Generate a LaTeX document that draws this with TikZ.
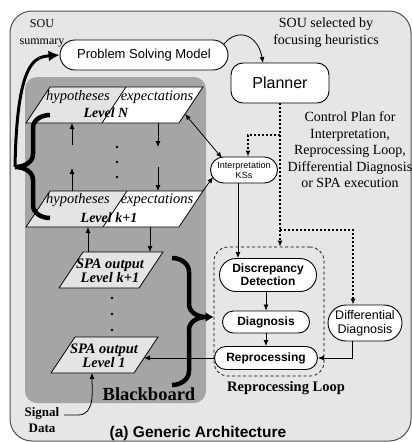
\documentclass[tikz,border=0pt]{standalone}
\usepackage{fontspec}
\setmainfont{Liberation Serif}
\setsansfont{Liberation Sans}
\usetikzlibrary{arrows.meta,calc,shapes.misc}
\definecolor{outerbg}{HTML}{E6E6E6}
\definecolor{bbgray}{HTML}{A5A5A5}
\definecolor{hypfill}{HTML}{E4E4E4}
\definecolor{framec}{HTML}{505050}
\begin{document}
\begin{tikzpicture}[x=1pt,y=-1pt,
  >={Latex[length=6pt,width=5pt]},
  arr/.style={->,line width=0.8pt},
  dotl/.style={line width=2pt,dash pattern=on 2pt off 2pt},
  rr/.style={rounded rectangle,draw,line width=0.9pt,fill=white,inner sep=0pt,align=center},
  para/.style={line width=0.8pt},
  bigbrace/.style={line width=4.5pt},
  itx/.style={font=\itshape\fontsize{14.5}{16}\selectfont},
  lvl/.style={font=\bfseries\itshape\fontsize{14}{16}\selectfont},
  spa/.style={font=\bfseries\itshape\fontsize{14.5}{12.5}\selectfont,align=center},
  serif/.style={font=\fontsize{14}{16.5}\selectfont,align=center},
  bsans/.style={font=\sffamily\bfseries\fontsize{12}{13}\selectfont}
]
\useasboundingbox (0,0) rectangle (412,442);
% outer frame
\draw[framec,line width=1pt,fill=outerbg,rounded corners=22pt] (10,11) rectangle (411,441);
% blackboard
\fill[bbgray,rounded corners=12pt] (25,77) rectangle (206,403);

% Level N
\coordinate (lnTL) at (50,87); \coordinate (lnTR) at (203,87);
\coordinate (lnBR) at (179,123); \coordinate (lnBL) at (26,123);
\coordinate (lnDT) at (126,87); \coordinate (lnDB) at (102,123);
\fill[hypfill] (lnTL) -- (lnDT) -- (lnDB) -- (lnBL) -- cycle;
\fill[white] (lnDT) -- (lnTR) -- (lnBR) -- (lnDB) -- cycle;
\draw[para] (lnTL) -- (lnTR) -- (lnBR) -- (lnBL) -- cycle;
\draw[para] (lnDT) -- (lnDB);
\node[itx] (lnh) at (78,97) {hypotheses};
\node[itx] (lne) at (157,97) {expectations};
\node[lvl] (lnl) at (106,113) {Level N};

% Level k+1
\coordinate (lkTL) at (50,191); \coordinate (lkTR) at (203,191);
\coordinate (lkBR) at (179,227); \coordinate (lkBL) at (26,227);
\coordinate (lkDT) at (127,191); \coordinate (lkDB) at (103,227);
\fill[hypfill] (lkTL) -- (lkDT) -- (lkDB) -- (lkBL) -- cycle;
\fill[white] (lkDT) -- (lkTR) -- (lkBR) -- (lkDB) -- cycle;
\draw[para] (lkTL) -- (lkTR) -- (lkBR) -- (lkBL) -- cycle;
\draw[para] (lkDT) -- (lkDB);
\node[itx] (lkh) at (78,200) {hypotheses};
\node[itx] (lke) at (157,200) {expectations};
\node[lvl] (lkl) at (109,218) {Level k+1};

% SPA k+1
\coordinate (skTL) at (83,252); \coordinate (skTR) at (163,252);
\coordinate (skBR) at (139,288); \coordinate (skBL) at (59,288);
\draw[para,fill=hypfill] (skTL) -- (skTR) -- (skBR) -- (skBL) -- cycle;
\node[spa] (skt) at (110,271) {SPA output\\Level k+1};

% SPA level 1
\coordinate (s1TL) at (75,337); \coordinate (s1TR) at (158,337);
\coordinate (s1BR) at (134,373); \coordinate (s1BL) at (51,373);
\draw[para,fill=hypfill] (s1TL) -- (s1TR) -- (s1BR) -- (s1BL) -- cycle;
\node[spa] (s1t) at (104,356) {SPA output\\Level 1};

% arrows between levels
\coordinate (u1s) at (72,145); \coordinate (u1e) at (72,123);
\coordinate (d1s) at (158,123); \coordinate (d1e) at (158,147);
\coordinate (u2s) at (72,191); \coordinate (u2e) at (72,168);
\coordinate (d2s) at (158,167); \coordinate (d2e) at (158,191);
\draw[arr] (u1s) -- (u1e);
\draw[arr] (d1s) -- (d1e);
\draw[arr] (u2s) -- (u2e);
\draw[arr] (d2s) -- (d2e);
\coordinate (u3s) at (88,252); \coordinate (u3e) at (88,227);
\coordinate (d3s) at (150,227); \coordinate (d3e) at (150,252);
\draw[arr] (u3s) -- (u3e);
\draw[arr] (d3s) -- (d3e);
% dots
\foreach \y in {147,162,177} \fill (117,\y) circle (1.3pt);
\foreach \y in {298,314,330} \fill (112,\y) circle (1.3pt);

% top labels
\node[font=\fontsize{12}{17}\selectfont,align=center] (sou) at (42,33) {SOU\\summary};
\node[serif,font=\fontsize{14}{17}\selectfont] (sel) at (326,33) {SOU selected by\\focusing heuristics};
\node[serif] (ctrl) at (350,150) {Control Plan for\\Interpretation,\\Reprocessing Loop,\\Differential Diagnosis\\or SPA execution};

% nodes
\node[rr,minimum width=168pt,minimum height=30pt,font=\sffamily\fontsize{13}{15}\selectfont] (psm) at (144,55) {Problem Solving Model};
\node[draw,rounded corners=12pt,line width=0.9pt,fill=white,minimum width=98pt,minimum height=40pt,font=\sffamily\fontsize{16}{18}\selectfont] (planner) at (280,83) {Planner};
\node[rr,minimum width=67pt,minimum height=26pt,font=\sffamily\fontsize{9}{10}\selectfont] (kss) at (244,170) {Interpretation\\KSs};
\node[draw,dashed,dash pattern=on 3pt off 2.5pt,line width=0.7pt,rounded corners=14pt,minimum width=110pt,minimum height=129pt] (loop) at (269,311.5) {};
\node[rr,bsans,minimum width=97pt,minimum height=33pt] (disc) at (268,275) {Discrepancy\\Detection};
\node[rr,bsans,minimum width=87pt,minimum height=22pt] (diag) at (266,322) {Diagnosis};
\node[rr,bsans,minimum width=103pt,minimum height=23pt] (rep) at (266,358) {Reprocessing};
\node[rr,minimum width=74pt,minimum height=36pt,font=\sffamily\fontsize{12.5}{14}\selectfont] (diffd) at (365,323) {Differential\\Diagnosis};

\node[font=\bfseries\fontsize{18.5}{20}\selectfont] (bb) at (149,394) {Blackboard};
\node[font=\bfseries\fontsize{14.5}{16}\selectfont] (rl) at (286,388) {Reprocessing Loop};
\node[font=\bfseries\fontsize{13}{15.5}\selectfont,align=center] (sig) at (42,420) {Signal\\Data};
\node[font=\sffamily\bfseries\fontsize{15.5}{17}\selectfont] (cap) at (198,433) {(a) Generic Architecture};

% left brace and thick arrow
\coordinate (btip) at (15,167);
\draw[bigbrace] (50,115) to[out=180,in=90] (33,128) -- (33,154) to[out=-90,in=0] (btip) to[out=0,in=90] (33,180) -- (33,205) to[out=-90,in=180] (50,218);
\draw[line width=3pt,-{Latex[length=11pt,width=11pt]}] (btip) .. controls (17,60) and (35,57) .. (psm.west);

% right brace
\coordinate (rtip) at (206,317);
\draw[bigbrace] (172,258) to[out=0,in=90] (189,272) -- (189,304) to[out=-90,in=180] (rtip) to[out=180,in=90] (189,330) -- (189,371) to[out=-90,in=0] (172,385);
\draw[line width=3pt,-{Latex[length=8pt,width=10pt]}] (rtip) -- (rtip -| loop.west);

% PSM -> Planner
\coordinate (psmNE) at (224,44);
\coordinate (plTop) at (263,63);
\draw[arr] (psmNE) .. controls (238,27) and (258,35) .. (plTop);

% dotted control lines
\coordinate (pv1) at (280,135); \coordinate (pv2) at (280,230);
\coordinate (kx) at (248,135); \coordinate (dx) at (353,230);
\draw[dotl] (planner.south) -- (pv2);
\draw[dotl,->] (pv2) -- (pv2 |- loop.north);
\draw[dotl,->] (pv1) -- (kx) -- (kx |- kss.north);
\draw[dotl,->] (pv2) -- (dx) -- (dx |- diffd.north);

% KS connections
\coordinate (lnR) at (185,114); \coordinate (ksTL) at (222,158);
\draw[arr,<->] (lnR) -- (ksTL);
\coordinate (ksL) at (213,177);
\draw[arr] (lkTR) -- (ksL);
\coordinate (x238) at (238,0);
\draw[arr] (kss.south -| x238) -- (disc.north -| x238);

% loop internals
\draw[arr] (disc.south -| diag.north) -- (diag.north);
\draw[arr] (diag.south) -- (rep.north);
\coordinate (x352) at (352,0);
\draw[arr] (diffd.south -| x352) |- (rep.east);
\coordinate (s1R) at (144,358);
\draw[arr] (rep.west) -- (s1R);

% signal data
\coordinate (sigR) at (64,415); \coordinate (s1B) at (92,373);
\draw[arr] (sigR) -- (78,415) to[out=0,in=-90] (s1B);
\end{tikzpicture}
\end{document}
